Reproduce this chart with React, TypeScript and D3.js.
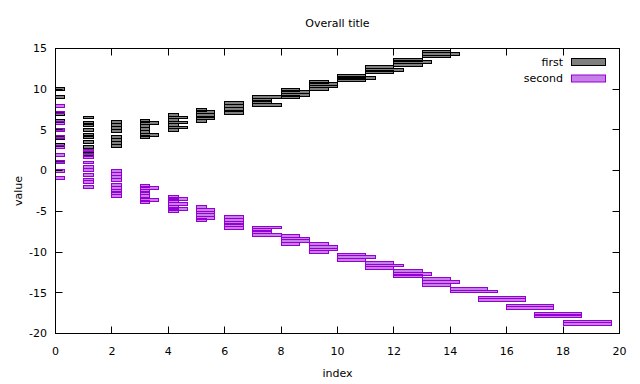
import React from 'react';
import * as d3 from 'd3';

// x ticks and y ticks
const xTickValues = [0, 2, 4, 6, 8, 10, 12, 14, 16, 18, 20];
const yTickValues = [-20, -15, -10, -5, 0, 5, 10, 15];

// "first" series: left edge (index), right edge, and the y-values of its bars
const firstIndex = [0, 1, 2, 3, 3, 4, 4, 5, 5, 6, 7, 7, 8, 8, 9, 9, 10, 10, 11, 11, 12, 12, 13, 13];
const firstXHigh = [0.33, 1.33, 2.33, 3.35, 3.67, 4.35, 4.67, 5.35, 5.65, 6.67, 7.67, 8.0, 8.67, 9.0, 9.67, 10.0, 11.0, 11.33, 12.0, 12.35, 13.0, 13.35, 14.0, 14.33];
const firstValues = [
  [10.0, 9.1, 7.0, 6.13, 4.95, 4.05, 3.2, 1.0],
  [6.53, 5.89, 5.56, 5.03, 4.41, 4.11, 3.53, 2.92, 2.5, 2.0],
  [5.99, 5.58, 5.21, 4.84, 4.13, 3.76, 3.39, 3.03],
  [6.07, 5.52, 5.15, 4.76, 4.1],
  [5.89, 4.35],
  [6.87, 6.22, 5.6, 4.94],
  [6.53, 5.91, 5.3],
  [7.48, 6.07],
  [7.18, 6.81, 6.4],
  [8.26, 7.91, 7.52, 7.12],
  [8.69, 8.38],
  [9.06, 8.1],
  [9.94, 9.0],
  [9.63, 9.33],
  [10.92, 10.0],
  [10.64, 10.33],
  [11.68, 11.08],
  [11.38],
  [12.68, 12.07],
  [12.4],
  [13.62, 13.01],
  [13.32],
  [14.63, 14.02],
  [14.32],
];

// "second" series
const secondIndex = [0, 1, 2, 3, 3, 4, 4, 5, 5, 6, 7, 7, 8, 8, 9, 9, 10, 10, 11, 11, 12, 12, 13, 13, 14, 14, 15, 16, 17, 18];
const secondXHigh = [0.33, 1.33, 2.33, 3.35, 3.67, 4.35, 4.67, 5.35, 5.65, 6.67, 7.67, 8.0, 8.67, 9.0, 9.67, 10.0, 11.0, 11.33, 12.0, 12.35, 13.0, 13.35, 14.0, 14.33, 15.33, 15.67, 16.67, 17.67, 18.67, 19.7];
const secondValues = [
  [7.95, 7.14, 5.89, 5.03, 4.1, 2.88, 1.93, 1.07, -0.09, -0.95],
  [2.47, 1.93, 1.61, 1.0, 0.4, 0.12, -0.5, -1.09, -1.44, -2.03],
  [0.0, -0.41, -0.83, -1.2, -1.82, -2.16, -2.49, -2.79, -3.08],
  [-1.85, -2.46, -2.77, -3.08, -3.88],
  [-2.12, -3.6],
  [-3.2, -3.75, -4.43, -5.0],
  [-3.48, -4.1, -4.71],
  [-4.49, -6.09],
  [-4.8, -5.14, -5.47, -5.8],
  [-5.75, -6.09, -6.39, -6.7, -7.0],
  [-7.29, -7.56],
  [-6.98, -7.9],
  [-7.99, -8.97],
  [-8.33, -8.69],
  [-9.06, -10.02],
  [-9.37, -9.68],
  [-10.3, -10.96],
  [-10.63],
  [-11.3, -11.94],
  [-11.65],
  [-12.37, -12.99],
  [-12.66],
  [-13.36, -14.03],
  [-13.7],
  [-14.5],
  [-14.84],
  [-15.58, -15.93],
  [-16.56, -16.92],
  [-17.55, -17.9],
  [-18.53, -18.88],
];

const seriesNames = ['first', 'second'];
const HALF = 0.18;

type Bar = { x0: number; x1: number; y: number };

function toBars(idx: number[], hi: number[], vals: number[][]): Bar[] {
  return idx.flatMap((i, k) => vals[k].map((v) => ({ x0: i, x1: hi[k], y: v })));
}

export default function App() {
  const W = 640;
  const H = 384;
  const left = 55.5, right = 619.5, top = 48.5, bottom = 333.5;
  const x = d3.scaleLinear().domain([0, 20]).range([left, right]);
  const y = d3.scaleLinear().domain([-20, 15]).range([bottom, top]);
  const snap = (v: number) => Math.round(v - 0.5) + 0.5;
  const font = '"DejaVu Sans", sans-serif';

  const firstBars = toBars(firstIndex, firstXHigh, firstValues);
  const secondBars = toBars(secondIndex, secondXHigh, secondValues);

  const colors = ['#000000', '#9400d3'];

  const renderBars = (bars: Bar[], color: string, key: string) =>
    bars.map((b, i) => {
      const x0 = snap(x(b.x0));
      const x1 = snap(x(b.x1));
      const y0 = snap(y(b.y + HALF));
      const y1 = snap(y(b.y - HALF));
      return (
        <rect
          key={key + i}
          x={x0}
          y={y0}
          width={Math.max(1, x1 - x0)}
          height={Math.max(1, y1 - y0)}
          fill={color}
          fillOpacity={0.5}
          stroke={color}
          strokeWidth={1}
        />
      );
    });

  const tickLen = 7;

  return (
    <svg width={W} height={H} style={{ position: 'absolute', left: 0, top: 0, background: '#fff' }} fontFamily={font}>
      <rect x={0} y={0} width={W} height={H} fill="#fff" />
      {/* bars */}
      {renderBars(firstBars, colors[0], 'f')}
      {renderBars(secondBars, colors[1], 's')}
      {/* ticks */}
      {xTickValues.map((t) => (
        <g key={'xt' + t}>
          <line x1={snap(x(t))} x2={snap(x(t))} y1={bottom} y2={bottom - tickLen} stroke="#000" />
          <line x1={snap(x(t))} x2={snap(x(t))} y1={top} y2={top + tickLen} stroke="#000" />
          <text x={x(t)} y={355} fontSize={11} textAnchor="middle" fill="#000">{t}</text>
        </g>
      ))}
      {yTickValues.map((t) => (
        <g key={'yt' + t}>
          <line x1={left} x2={left + tickLen} y1={snap(y(t))} y2={snap(y(t))} stroke="#000" />
          <line x1={right} x2={right - tickLen} y1={snap(y(t))} y2={snap(y(t))} stroke="#000" />
          <text x={47} y={y(t)} dy="0.35em" fontSize={11} textAnchor="end" fill="#000">{t}</text>
        </g>
      ))}
      {/* border */}
      <rect x={left} y={top} width={right - left} height={bottom - top} fill="none" stroke="#000" strokeWidth={1} />
      {/* legend */}
      {seriesNames.map((name, i) => (
        <g key={name}>
          <text x={563} y={62 + i * 16.5} dy="0.35em" fontSize={11} textAnchor="end" fill="#000">{name}</text>
          <rect x={571.5} y={58.5 + i * 16.5} width={34} height={7} fill={colors[i]} fillOpacity={0.5} stroke={colors[i]} />
        </g>
      ))}
      {/* titles */}
      <text x={(left + right) / 2} y={27} fontSize={11} textAnchor="middle" fill="#000">Overall title</text>
      <text x={(left + right) / 2} y={377} fontSize={11} textAnchor="middle" fill="#000">index</text>
      <text transform={`translate(22, ${(top + bottom) / 2}) rotate(-90)`} fontSize={11} textAnchor="middle" fill="#000">value</text>
    </svg>
  );
}
